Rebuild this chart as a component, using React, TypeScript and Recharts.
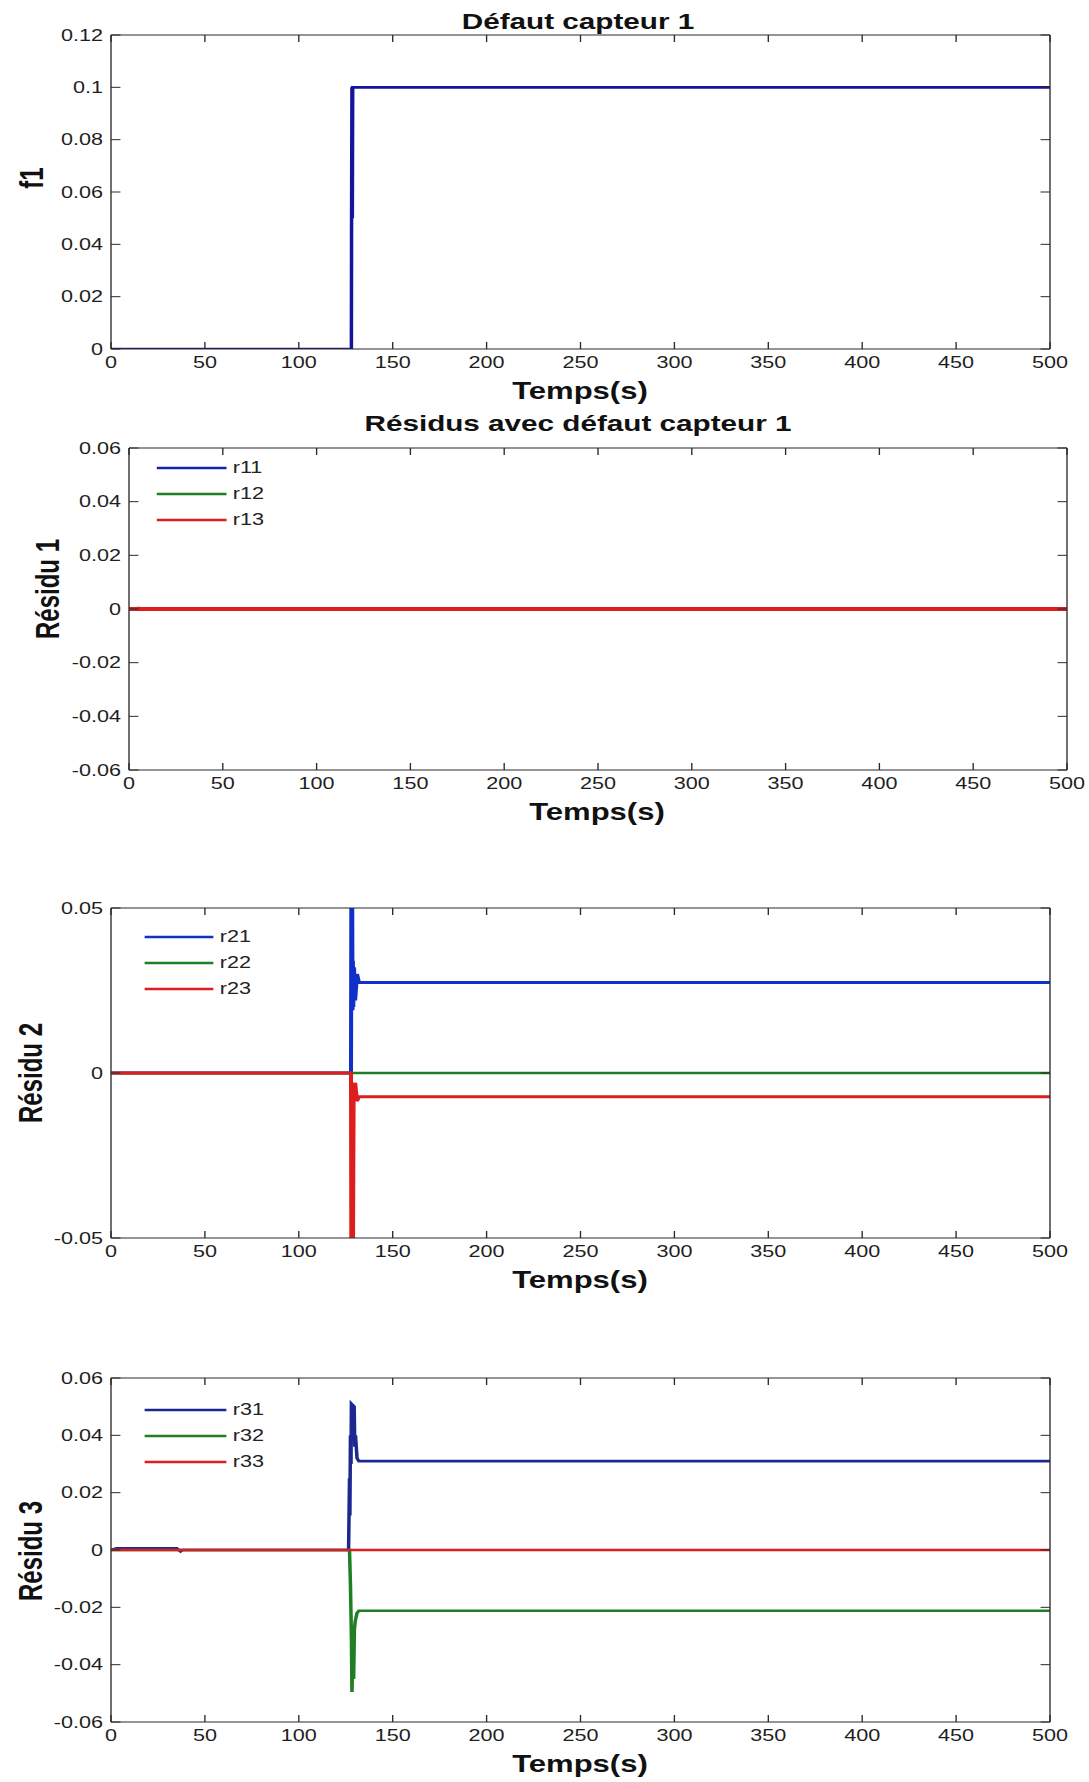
import React from "react"
import { LineChart, Line, XAxis, YAxis, Legend } from "recharts"

const FONT = '"Liberation Sans", Arial, Helvetica, sans-serif'
const PAGE_W = 1089
const PAGE_H = 1782
const INNER_W = 807
const SX = PAGE_W / INNER_W // the figure is stretched horizontally
const Y_AXIS_W = 60
const ROW_H = 26

const timeTicks = [0, 50, 100, 150, 200, 250, 300, 350, 400, 450, 500]
const f1Ticks = [0, 0.02, 0.04, 0.06, 0.08, 0.1, 0.12]
const res1Ticks = [-0.06, -0.04, -0.02, 0, 0.02, 0.04, 0.06]
const res2Ticks = [-0.05, 0, 0.05]
const res3Ticks = [-0.06, -0.04, -0.02, 0, 0.02, 0.04, 0.06]

// défaut capteur 1
const f1Time = [0, 128, 128.1, 128.3, 128.5, 128.7, 129, 500]
const f1Val = [0, 0, 0.05, 0.1, 0.05, 0.1, 0.1, 0.1]

// résidu 1
const r1Time = [0, 5, 10, 500]
const r11Val = [0, 0, 0, 0]
const r12Val = [0, 0.0003, 0, 0]
const r13Val = [0, 0, 0, 0]

// résidu 2
const r21Time = [0, 127.8, 128, 128.2, 128.4, 128.6, 128.8, 129, 129.4, 130, 131, 132, 500]
const r21Val = [0, 0, 0.06, 0.02, 0.06, 0.019, 0.034, 0.02, 0.032, 0.022, 0.03, 0.0274, 0.0274]
const r22Time = [0, 500]
const r22Val = [0, 0]
const r23Time = [0, 127.8, 128, 128.2, 128.4, 128.6, 128.8, 129.2, 130, 131, 132, 500]
const r23Val = [0, 0, -0.06, -0.003, -0.06, -0.006, -0.06, -0.004, -0.003, -0.0085, -0.0072, -0.0072]

// résidu 3
const r31Time = [0, 3, 35, 37, 38, 126.5, 127, 127.2, 127.5, 127.8, 128, 129.5, 129.8, 130.2, 131, 132, 500]
const r31Val = [0, 0.0006, 0.0006, -0.0005, 0, 0, 0.025, 0.012, 0.04, 0.03, 0.051, 0.05, 0.036, 0.04, 0.032, 0.031, 0.031]
const r32Time = [0, 127, 127.5, 128, 128.3, 128.8, 129.2, 129.6, 130, 131, 132, 500]
const r32Val = [0, 0, -0.012, -0.03, -0.0495, -0.035, -0.045, -0.028, -0.025, -0.022, -0.0212, -0.0212]
const r33Time = [0, 500]
const r33Val = [0, 0]

const pts = (t: number[], v: number[]) => t.map((x, i) => ({ t: x, v: v[i] }))
const fmt = (v: number) => String(+v.toFixed(4))
const noLabel = () => ""

const BLUE = "#1a22b8"
const NAVY = "#1c2890"
const GREEN = "#1f7f25"
const RED = "#dc1e1e"
const AXIS = "#2a2a2a"

interface Series { name: string; data: { t: number; v: number }[]; color: string; width: number }
interface LegendItem { name: string; color: string }

const LegendBox = ({ items, lineLen }: { items: LegendItem[]; lineLen: number }) => (
  <div style={{ fontFamily: FONT, fontSize: 16, color: "#222" }}>
    {items.map(it => (
      <div key={it.name} style={{ display: "flex", alignItems: "center", height: ROW_H }}>
        <svg width={lineLen + 5} height={ROW_H} style={{ display: "block" }}>
          <line x1={0} x2={lineLen} y1={ROW_H / 2} y2={ROW_H / 2} stroke={it.color} strokeWidth={2.6} />
        </svg>
        <span style={{ lineHeight: 1 }}>{it.name}</span>
      </div>
    ))}
  </div>
)

interface PanelProps {
  top: number
  height: number
  marginTop: number
  left: number
  right: number
  yDomain: [number, number]
  yTicks: number[]
  series: Series[]
  legend?: { left: number; top: number; lineLen: number }
}

function Panel({ top, height, marginTop, left, right, yDomain, yTicks, series, legend }: PanelProps) {
  const tickStyle = { fontSize: 16, fill: "#1e1e1e", fontFamily: FONT }
  // box axes (top / right): 1px thick so they get drawn, empty labels so the tick marks stay
  return (
    <div style={{ position: "absolute", left: 0, top }}>
      <LineChart
        width={INNER_W}
        height={height}
        margin={{ top: marginTop - 1, right: INNER_W - right - 1, bottom: 0, left: left - Y_AXIS_W }}
      >
        <XAxis xAxisId="b" type="number" dataKey="t" domain={[0, 500]} ticks={timeTicks} interval={0}
          allowDataOverflow height={30} tickSize={-7} tickMargin={15} stroke={AXIS}
          tick={tickStyle} tickFormatter={fmt} />
        <XAxis xAxisId="top" orientation="top" type="number" dataKey="t" domain={[0, 500]} ticks={timeTicks}
          interval={0} allowDataOverflow height={1} tickSize={-7} tick={tickStyle} tickFormatter={noLabel} stroke={AXIS} />
        <YAxis yAxisId="l" type="number" domain={yDomain} ticks={yTicks} interval={0} allowDataOverflow
          width={Y_AXIS_W} tickSize={-7} tickMargin={13} stroke={AXIS} tick={tickStyle} tickFormatter={fmt} />
        <YAxis yAxisId="r" orientation="right" type="number" domain={yDomain} ticks={yTicks} interval={0}
          allowDataOverflow width={1} tickSize={-7} tick={tickStyle} tickFormatter={noLabel} stroke={AXIS} />
        <Line xAxisId="top" yAxisId="r" data={series[0].data} dataKey="v" stroke="none" dot={false}
          activeDot={false} legendType="none" isAnimationActive={false} />
        {series.map(s => (
          <Line key={s.name} xAxisId="b" yAxisId="l" data={s.data} dataKey="v" name={s.name} type="linear"
            stroke={s.color} strokeWidth={s.width} dot={false} activeDot={false} isAnimationActive={false} />
        ))}
        {legend && (
          <Legend layout="vertical" align="center" verticalAlign="middle"
            wrapperStyle={{ left: legend.left, top: legend.top, width: "auto", height: "auto" }}
            content={() => <LegendBox items={series.map(s => ({ name: s.name, color: s.color }))} lineLen={legend.lineLen} />} />
        )}
      </LineChart>
    </div>
  )
}

const u = (x: number) => x / SX

export default function App() {
  return (
    <div style={{ position: "absolute", left: 0, top: 0, width: PAGE_W, height: PAGE_H, background: "#fff", overflow: "hidden" }}>
      <div style={{ position: "relative", width: INNER_W, height: PAGE_H, transform: `scaleX(${SX})`, transformOrigin: "0 0" }}>
        <Panel top={0} height={379} marginTop={35} left={u(111)} right={u(1050)}
          yDomain={[0, 0.12]} yTicks={f1Ticks}
          series={[{ name: "f1", data: pts(f1Time, f1Val), color: "#14149c", width: 2.6 }]} />
        <Panel top={440} height={360} marginTop={8} left={u(129)} right={u(1067)}
          yDomain={[-0.06, 0.06]} yTicks={res1Ticks}
          legend={{ left: u(156), top: 467.5 - 440 - ROW_H / 2, lineLen: u(226) - u(156) }}
          series={[
            { name: "r11", data: pts(r1Time, r11Val), color: BLUE, width: 3 },
            { name: "r12", data: pts(r1Time, r12Val), color: GREEN, width: 3 },
            { name: "r13", data: pts(r1Time, r13Val), color: RED, width: 3.8 },
          ]} />
        <Panel top={900} height={368} marginTop={8} left={u(111)} right={u(1050)}
          yDomain={[-0.05, 0.05]} yTicks={res2Ticks}
          legend={{ left: u(144), top: 937 - 900 - ROW_H / 2, lineLen: u(213) - u(144) }}
          series={[
            { name: "r21", data: pts(r21Time, r21Val), color: "#1030c8", width: 3 },
            { name: "r22", data: pts(r22Time, r22Val), color: GREEN, width: 2.6 },
            { name: "r23", data: pts(r23Time, r23Val), color: RED, width: 3 },
          ]} />
        <Panel top={1370} height={382} marginTop={8} left={u(111)} right={u(1050)}
          yDomain={[-0.06, 0.06]} yTicks={res3Ticks}
          legend={{ left: u(144), top: 1409.5 - 1370 - ROW_H / 2, lineLen: u(226) - u(144) }}
          series={[
            { name: "r31", data: pts(r31Time, r31Val), color: NAVY, width: 2.6 },
            { name: "r32", data: pts(r32Time, r32Val), color: GREEN, width: 2.6 },
            { name: "r33", data: pts(r33Time, r33Val), color: RED, width: 2.6 },
          ]} />
        <svg width={INNER_W} height={PAGE_H} style={{ position: "absolute", left: 0, top: 0, pointerEvents: "none" }}
          fontFamily={FONT} fill="#111">
          <text x={u(578)} y={29} textAnchor="middle" fontSize={22} fontWeight="bold">Défaut capteur 1</text>
          <text x={u(578)} y={431} textAnchor="middle" fontSize={22} fontWeight="bold">Résidus avec défaut capteur 1</text>
          <text x={u(580)} y={399} textAnchor="middle" fontSize={23} fontWeight="bold">Temps(s)</text>
          <text x={u(597)} y={820} textAnchor="middle" fontSize={23} fontWeight="bold">Temps(s)</text>
          <text x={u(580)} y={1288} textAnchor="middle" fontSize={23} fontWeight="bold">Temps(s)</text>
          <text x={u(580)} y={1772} textAnchor="middle" fontSize={23} fontWeight="bold">Temps(s)</text>
          <text x={u(43)} y={178} textAnchor="middle" fontSize={24} fontWeight="bold" transform={`rotate(-90 ${u(43)} 178)`}>f1</text>
          <text x={u(59)} y={589} textAnchor="middle" fontSize={24} fontWeight="bold" transform={`rotate(-90 ${u(59)} 589)`}>Résidu 1</text>
          <text x={u(42)} y={1073} textAnchor="middle" fontSize={24} fontWeight="bold" transform={`rotate(-90 ${u(42)} 1073)`}>Résidu 2</text>
          <text x={u(42)} y={1551} textAnchor="middle" fontSize={24} fontWeight="bold" transform={`rotate(-90 ${u(42)} 1551)`}>Résidu 3</text>
        </svg>
      </div>
    </div>
  )
}
